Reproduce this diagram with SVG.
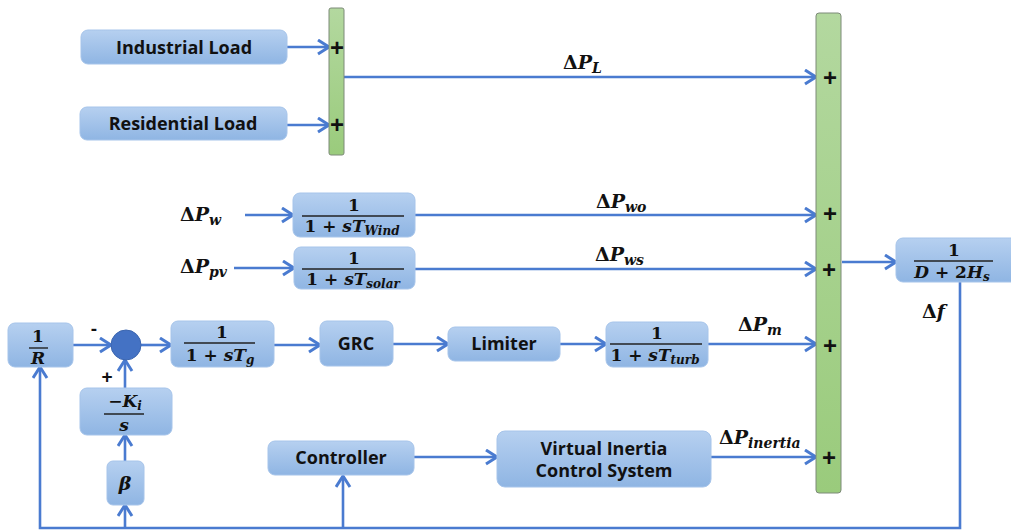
<svg xmlns="http://www.w3.org/2000/svg" width="1011" height="532" viewBox="0 0 1011 532">
  <defs>
    <linearGradient id="blueFill" x1="0" y1="0" x2="0" y2="1">
      <stop offset="0" stop-color="#b6d0f0"/>
      <stop offset="1" stop-color="#8fb5e3"/>
    </linearGradient>
    <linearGradient id="greenFill" x1="0" y1="0" x2="0" y2="1">
      <stop offset="0" stop-color="#b3d89f"/>
      <stop offset="1" stop-color="#9acb7c"/>
    </linearGradient>
    <marker id="arrow" markerUnits="userSpaceOnUse" markerWidth="15" markerHeight="18" refX="13" refY="8" orient="auto">
      <path d="M2,1 L13,8 L2,15" fill="none" stroke="#4a7bd0" stroke-width="3" stroke-linejoin="miter"/>
    </marker>
    <style>
      .box{fill:url(#blueFill);stroke:#a6c4ea;stroke-width:1}
      .bar{fill:url(#greenFill);stroke:#7d8a78;stroke-width:1}
      .lbl{font-family:"Open Sans","Liberation Sans",sans-serif;font-weight:bold;font-size:18px;fill:#111;text-anchor:middle}
      .plus{font-family:"Liberation Sans",sans-serif;font-weight:bold;font-size:24px;fill:#111;text-anchor:middle}
      .m{font-family:"DejaVu Serif","Liberation Serif",serif;font-weight:bold;font-style:italic;font-size:17px;fill:#111}
      .sig{font-size:19px}
      .c{text-anchor:middle}
      .up{font-style:normal}
      .sub{font-size:12px}
      .sig .sub{font-size:14px}
      .frac{stroke:#222;stroke-width:1.4}
      .wire{fill:none;stroke:#4a7bd0;stroke-width:2.6}
      .arr{marker-end:url(#arrow)}
    </style>
  </defs>

  <!-- signal lines -->
  <g id="connectors">
    <path class="wire arr" d="M287,47 H329"/>
    <path class="wire arr" d="M287,125 H329"/>
    <path class="wire arr" d="M344,77 H816"/>
    <path class="wire arr" d="M245,215 H293"/>
    <path class="wire arr" d="M234,268 H294"/>
    <path class="wire arr" d="M415,215 H816"/>
    <path class="wire arr" d="M415,269 H816"/>
    <path class="wire arr" d="M73,345 H111"/>
    <path class="wire arr" d="M141,345 H171"/>
    <path class="wire arr" d="M274,345 H320"/>
    <path class="wire arr" d="M393,344 H448"/>
    <path class="wire arr" d="M560,344 H606"/>
    <path class="wire arr" d="M708,344 H816"/>
    <path class="wire arr" d="M125,388 V360"/>
    <path class="wire arr" d="M125,461 V435"/>
    <path class="wire arr" d="M960,282 V528 H40 V367"/>
    <path class="wire arr" d="M125,528 V505"/>
    <path class="wire arr" d="M343,528 V476"/>
    <path class="wire arr" d="M414,457 H497"/>
    <path class="wire arr" d="M711,457 H816"/>
    <path class="wire arr" d="M842,262 H896"/>
  </g>

  <!-- signal labels -->
  <g id="signal-labels" class="m sig">
    <text x="563" y="69"><tspan class="up">Δ</tspan>P<tspan class="sub" dy="4">L</tspan></text>
    <text x="180" y="221"><tspan class="up">Δ</tspan>P<tspan class="sub" dy="4">w</tspan></text>
    <text x="180" y="273"><tspan class="up">Δ</tspan>P<tspan class="sub" dy="4">pv</tspan></text>
    <text x="596" y="208"><tspan class="up">Δ</tspan>P<tspan class="sub" dy="4">wo</tspan></text>
    <text x="595" y="261"><tspan class="up">Δ</tspan>P<tspan class="sub" dy="4">ws</tspan></text>
    <text x="738" y="331"><tspan class="up">Δ</tspan>P<tspan class="sub" dy="4">m</tspan></text>
    <text x="719" y="444"><tspan class="up">Δ</tspan>P<tspan class="sub" dy="4">inertia</tspan></text>
    <text x="922" y="318"><tspan class="up">Δ</tspan>f</text>
  </g>

  <!-- load blocks -->
  <g id="industrial-load">
    <rect class="box" x="81" y="30" width="206" height="34" rx="7"/>
    <text class="lbl" x="184" y="54">Industrial Load</text>
  </g>
  <g id="residential-load">
    <rect class="box" x="80" y="107" width="207" height="33" rx="7"/>
    <text class="lbl" x="183" y="130">Residential Load</text>
  </g>

  <!-- load summing bar -->
  <g id="load-sum">
    <rect class="bar" x="329" y="8" width="15" height="147" rx="2"/>
    <text class="plus" x="337" y="56">+</text>
    <text class="plus" x="337" y="133">+</text>
  </g>

  <!-- main summing bar -->
  <g id="main-sum">
    <rect class="bar" x="816" y="13" width="25" height="480" rx="3"/>
    <text class="plus" x="830" y="86">+</text>
    <text class="plus" x="830" y="222">+</text>
    <text class="plus" x="829" y="278">+</text>
    <text class="plus" x="830" y="354">+</text>
    <text class="plus" x="829" y="466">+</text>
  </g>

  <!-- wind turbine model -->
  <g id="wind-block">
    <rect class="box" x="293" y="193" width="122" height="44" rx="7"/>
    <text class="m c" x="354" y="211"><tspan class="up">1</tspan></text>
    <line class="frac" x1="302" y1="216" x2="404" y2="216"/>
    <text class="m c" x="352" y="232"><tspan class="up">1 + </tspan>sT<tspan class="sub" dy="3">Wind</tspan></text>
  </g>

  <!-- solar model -->
  <g id="solar-block">
    <rect class="box" x="294" y="247" width="121" height="42" rx="7"/>
    <text class="m c" x="354" y="264"><tspan class="up">1</tspan></text>
    <line class="frac" x1="302" y1="269" x2="404" y2="269"/>
    <text class="m c" x="353" y="285"><tspan class="up">1 + </tspan>sT<tspan class="sub" dy="3">solar</tspan></text>
  </g>

  <!-- droop -->
  <g id="droop">
    <rect class="box" x="8" y="323" width="65" height="44" rx="7"/>
    <text class="m c" x="38" y="342"><tspan class="up">1</tspan></text>
    <line class="frac" x1="29" y1="348" x2="48" y2="348"/>
    <text class="m c" x="38" y="364">R</text>
  </g>

  <!-- summing junction -->
  <g id="sum-junction">
    <circle cx="126" cy="345" r="15" fill="#4472c4" stroke="#3c66b0" stroke-width="1"/>
    <text class="plus" x="94" y="335" style="font-size:19px">-</text>
    <text class="plus" x="107" y="383" style="font-size:19px">+</text>
  </g>

  <!-- integral controller -->
  <g id="integral">
    <rect class="box" x="80" y="388" width="92" height="47" rx="7"/>
    <text class="m c" x="125" y="407"><tspan class="up">−</tspan>K<tspan class="sub" dy="3">i</tspan></text>
    <line class="frac" x1="104" y1="414" x2="144" y2="414"/>
    <text class="m c" x="124" y="431">s</text>
  </g>

  <!-- frequency bias -->
  <g id="beta">
    <rect class="box" x="107" y="461" width="37" height="44" rx="6"/>
    <text class="m c" x="125" y="490" style="font-size:19px">β</text>
  </g>

  <!-- governor -->
  <g id="governor">
    <rect class="box" x="171" y="321" width="103" height="46" rx="7"/>
    <text class="m c" x="222" y="338"><tspan class="up">1</tspan></text>
    <line class="frac" x1="184" y1="343" x2="255" y2="343"/>
    <text class="m c" x="220" y="361"><tspan class="up">1 + </tspan>sT<tspan class="sub" dy="3">g</tspan></text>
  </g>

  <g id="grc">
    <rect class="box" x="320" y="321" width="73" height="45" rx="7"/>
    <text class="lbl" x="356" y="350">GRC</text>
  </g>

  <g id="limiter">
    <rect class="box" x="448" y="327" width="112" height="34" rx="7"/>
    <text class="lbl" x="504" y="350">Limiter</text>
  </g>

  <!-- turbine -->
  <g id="turbine">
    <rect class="box" x="606" y="322" width="102" height="45" rx="7"/>
    <text class="m c" x="657" y="339"><tspan class="up">1</tspan></text>
    <line class="frac" x1="610" y1="344" x2="702" y2="344"/>
    <text class="m c" x="655" y="361"><tspan class="up">1 + </tspan>sT<tspan class="sub" dy="3">turb</tspan></text>
  </g>

  <g id="controller">
    <rect class="box" x="268" y="441" width="146" height="34" rx="7"/>
    <text class="lbl" x="341" y="464">Controller</text>
  </g>

  <g id="virtual-inertia">
    <rect class="box" x="497" y="431" width="214" height="56" rx="8"/>
    <text class="lbl" x="604" y="455">Virtual Inertia</text>
    <text class="lbl" x="604" y="477">Control System</text>
  </g>

  <!-- power system dynamics -->
  <g id="system">
    <rect class="box" x="896" y="238" width="125" height="44" rx="7"/>
    <text class="m c" x="954" y="256"><tspan class="up">1</tspan></text>
    <line class="frac" x1="914" y1="261" x2="993" y2="261"/>
    <text class="m c" x="952" y="278">D<tspan class="up"> + 2</tspan>H<tspan class="sub" dy="3">s</tspan></text>
  </g>
</svg>
